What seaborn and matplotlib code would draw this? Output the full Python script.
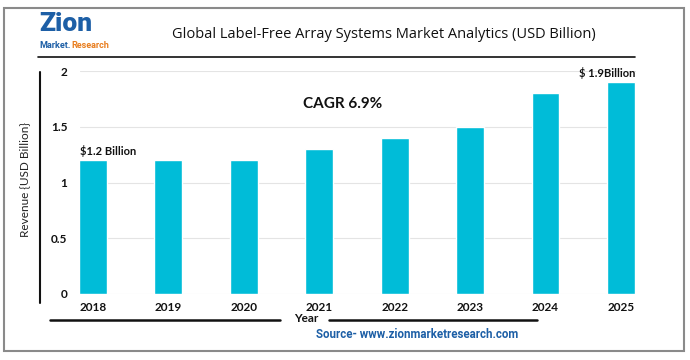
import matplotlib
matplotlib.use("Agg")
import matplotlib.pyplot as plt
import seaborn as sns
import pandas as pd
from matplotlib.lines import Line2D
from matplotlib.patches import Rectangle

years = ["2018", "2019", "2020", "2021", "2022", "2023", "2024", "2025"]
revenue = [1.2, 1.2, 1.2, 1.3, 1.4, 1.5, 1.8, 1.9]
yticks = [0, 0.5, 1, 1.5, 2]
ytick_labels = ["0", "0.5", "1", "1.5", "2"]

sns.set_style("white")
plt.rcParams["font.family"] = ["Lato", "DejaVu Sans"]

W, H = 690, 360
fig = plt.figure(figsize=(W / 100, H / 100), dpi=100)

def fx(x):
    return x / W

def fy(y):
    return 1 - y / H

ax = fig.add_axes([fx(80), fy(294), fx(636) - fx(80), fy(71) - fy(294)])
df = pd.DataFrame({"Year": years, "Revenue": revenue})
sns.barplot(data=df, x="Year", y="Revenue", color="#00BCD8", width=0.37,
            saturation=1, ax=ax, zorder=3)
ax.set_xlim(-0.172, 7.2)
ax.set_ylim(0, 2)
ax.set_yticks(yticks)
ax.set_yticklabels(ytick_labels)
ax.yaxis.grid(True, color="#e4e4e4", linewidth=0.8, zorder=0)
ax.set_axisbelow(True)
for s in ax.spines.values():
    s.set_visible(False)
ax.tick_params(axis="both", length=0, labelsize=8.5)
ax.tick_params(axis="x", pad=6)
ax.tick_params(axis="y", pad=9)
for lbl in ax.get_xticklabels() + ax.get_yticklabels():
    lbl.set_fontweight("bold")
    lbl.set_color("#111111")
ax.set_xlabel("")
ax.set_ylabel("")

# annotations
ax.text(-0.17, revenue[0] + 0.03, "\\$1.2 Billion", ha="left", va="bottom",
        fontsize=8, fontweight="bold", color="#111111")
ax.text(7.19, revenue[-1] + 0.03, "\\$ 1.9Billion", ha="right", va="bottom",
        fontsize=8, fontweight="bold", color="#111111")
fig.text(fx(343), fy(104), "CAGR 6.9%", ha="center", va="center",
         fontsize=11, fontweight="bold", color="#111111")

# outer border
fig.add_artist(Rectangle((fx(4), fy(351)), fx(684) - fx(4), fy(8) - fy(351),
                         transform=fig.transFigure, fill=False,
                         edgecolor="#8a8a8a", linewidth=1.5))

# title and underline
fig.text(fx(384), fy(35), "Global Label-Free Array Systems Market Analytics (USD Billion)",
         ha="center", va="center", fontsize=10.5, color="#111111",
         family=["Open Sans", "DejaVu Sans"])
fig.add_artist(Line2D([fx(38), fx(635)], [fy(57), fy(57)],
                      transform=fig.transFigure, color="#111111", linewidth=1.2))

# logo
fig.text(fx(39), fy(24), "Zion", ha="left", va="center", fontsize=19,
         fontweight="black", color="#1d5fa6", family=["Roboto", "DejaVu Sans"])
fig.text(fx(39), fy(45), "Market.", ha="left", va="center", fontsize=6.5,
         fontweight="bold", color="#1d5fa6", family=["Roboto", "DejaVu Sans"])
fig.text(fx(71), fy(45), "Research", ha="left", va="center", fontsize=6.5,
         fontweight="bold", color="#e87d1e", family=["Roboto", "DejaVu Sans"])

# y axis label & line
fig.text(fx(25), fy(180), "Revenue {USD Billion}", rotation=90, ha="center",
         va="center", fontsize=8.5, color="#222222")
fig.add_artist(Line2D([fx(40), fx(40)], [fy(72), fy(303)],
                      transform=fig.transFigure, color="#111111", linewidth=1.5))

# x axis label & lines
fig.text(fx(306), fy(319), "Year", ha="center", va="center", fontsize=8.5,
         fontweight="bold", color="#111111")
fig.add_artist(Line2D([fx(50), fx(280)], [fy(320), fy(320)],
                      transform=fig.transFigure, color="#111111", linewidth=1.8))
fig.add_artist(Line2D([fx(329), fx(537)], [fy(320), fy(320)],
                      transform=fig.transFigure, color="#111111", linewidth=1.8))

# source
fig.text(fx(417), fy(334), "Source- www.zionmarketresearch.com", ha="center",
         va="center", fontsize=8.3, fontweight="bold", color="#1d5fa6",
         family=["Roboto", "DejaVu Sans"])

fig.savefig("out.png", dpi=100)
